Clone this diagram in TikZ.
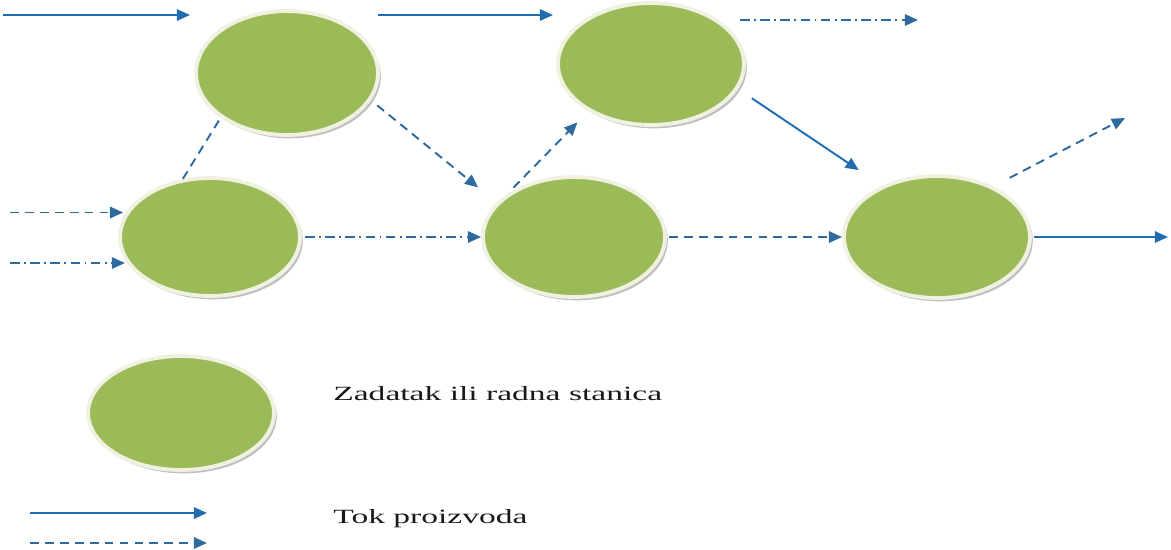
\documentclass[tikz,border=0pt]{standalone}
\usepackage{graphicx}
\usepackage{fontspec}
\setmainfont{Liberation Serif}
\usetikzlibrary{arrows.meta,shapes.geometric,shadows}
\definecolor{wsgreen}{HTML}{9BBB59}
\definecolor{rim}{HTML}{F1F1E2}
\definecolor{flow}{HTML}{1F6DB0}
\definecolor{flowd}{HTML}{2F6A9E}
\tikzset{
  ws/.style={ellipse, fill=wsgreen, draw=rim, line width=2.2pt, inner sep=0pt,
    drop shadow={shadow xshift=1.6pt, shadow yshift=-1.9pt, fill=black!45, opacity=0.55}},
  flowline/.style={draw=flow, line width=1.1pt, -{Triangle[length=7.5pt,width=6.5pt]}},
  solidflow/.style={flowline},
  dashflow/.style={flowline, draw=flowd, dash pattern=on 5pt off 3.5pt},
  dotflow/.style={flowline, draw=flowd, dash pattern=on 5.5pt off 2.5pt on 1pt off 2.5pt},
  lbl/.style={anchor=base west, inner sep=0pt, text=black!90, font=\fontsize{11.5}{13}\selectfont}
}
\begin{document}
\begin{tikzpicture}[x=0.02cm,y=-0.02cm]
\useasboundingbox (0,0) rectangle (1171,549);
% work stations
\node[ws, minimum width=3.64cm, minimum height=2.48cm] (E1) at (287,73) {};
\node[ws, minimum width=3.60cm, minimum height=2.36cm] (E2) at (210,237) {};
\node[ws, minimum width=3.72cm, minimum height=2.44cm] (E3) at (651,64) {};
\node[ws, minimum width=3.64cm, minimum height=2.40cm] (E4) at (574,237) {};
\node[ws, minimum width=3.72cm, minimum height=2.44cm] (E5) at (937,237) {};
\node[ws, minimum width=3.72cm, minimum height=2.28cm] (L) at (181,413) {};
% free ends
\coordinate (a1s) at (3,15);    \coordinate (a1e) at (190,15);
\coordinate (a2s) at (378,15);  \coordinate (a2e) at (553,15);
\coordinate (a3s) at (740,20);  \coordinate (a3e) at (918,20);
\coordinate (a8e) at (1125,118);
\coordinate (a9s) at (10,212.5);
\coordinate (a10s) at (10,263);
\coordinate (a13e) at (1168,237);
\coordinate (l1s) at (30,513);  \coordinate (l1e) at (207,513);
\coordinate (l2s) at (30,543);  \coordinate (l2e) at (207,543);
% connectors
\draw[solidflow] (a1s) -- (a1e);
\draw[solidflow] (a2s) -- (a2e);
\draw[dotflow] (a3s) -- (a3e);
\draw[dashflow, -] (E2.115) -- (E1.214);
\draw[dashflow, shorten <=0.16cm, shorten >=0.48cm] (E1.-18) -- (E4.156);
\draw[dashflow, shorten <=0.17cm, shorten >=0.31cm] (E4.147) -- (E3.217);
\draw[solidflow, shorten <=0.33cm, shorten >=0.56cm] (E3.-16) -- (E5.137);
\draw[dashflow, shorten <=0.37cm] (E5.42) -- (a8e);
\draw[dashflow, shorten >=0.05cm] (a9s) -- (a9s -| E2.164);
\draw[dotflow, shorten >=0.05cm] (a10s) -- (a10s -| E2.198);
\draw[dotflow, shorten <=0.06cm] (E2.east) -- (E4.west);
\draw[dashflow, shorten <=0.04cm] (E4.east) -- (E5.west);
\draw[solidflow, shorten <=0.04cm] (E5.east) -- (a13e);
% legend
\draw[solidflow] (l1s) -- (l1e);
\draw[dashflow] (l2s) -- (l2e);
\node[lbl] (t1) at (333,400) {\scalebox{1.66}[1]{Zadatak ili radna stanica}};
\node[lbl] (t2) at (333,523) {\scalebox{1.66}[1]{Tok proizvoda}};
\end{tikzpicture}
\end{document}
